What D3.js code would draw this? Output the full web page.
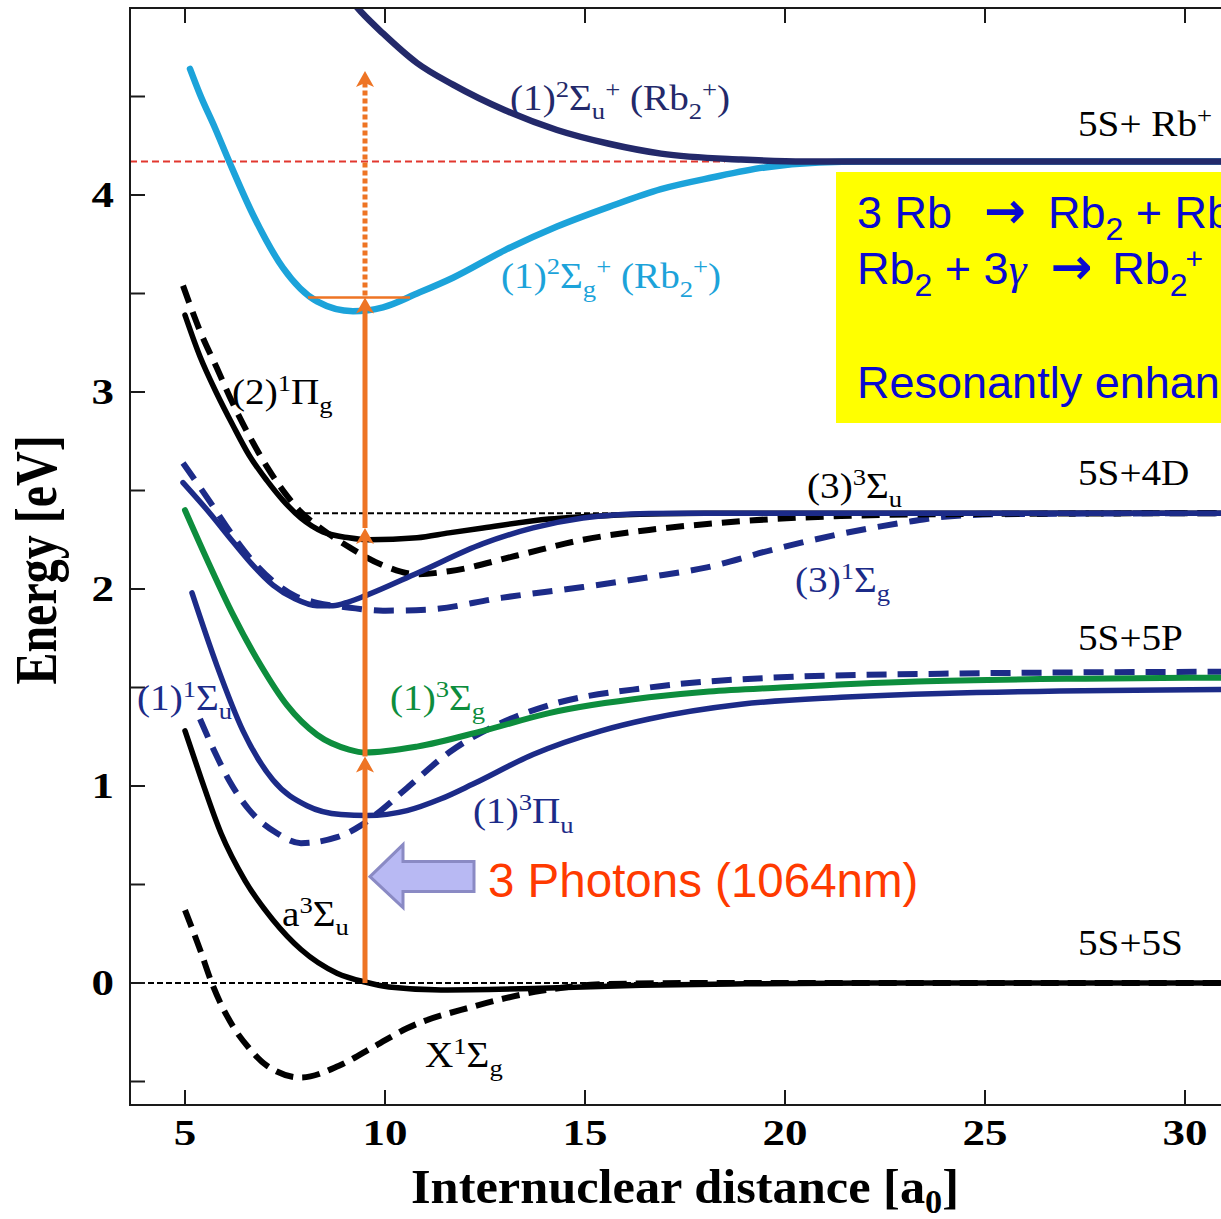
<!DOCTYPE html>
<html><head><meta charset="utf-8">
<script src="https://cdn.jsdelivr.net/npm/d3@7"></script>
<style>body{margin:0;background:#fff}svg{display:block}</style>
</head><body>
<svg id="c" width="1221" height="1219"></svg>
<script>
// ---------- data ----------
const xTicks = [5, 10, 15, 20, 25, 30];
const yTicks = [0, 1, 2, 3, 4];
const yMinorTicks = [-0.5, 0.5, 1.5, 2.5, 3.5, 4.5];

// potential curves: [R (a0), E (eV)]
const ionU = [[8.9,5.05],[9.4,4.93],[9.95,4.82],[10.8,4.67],[11.7,4.56],[13.0,4.43],[14.3,4.33],[15.6,4.26],[16.9,4.21],[18.9,4.18],[20.5,4.17],[31,4.17]];
const ionG = [[5.125,4.64],[5.375,4.51],[5.75,4.34],[6.125,4.16],[6.7,3.90],[7.45,3.63],[8.3,3.46],[9.2,3.41],[9.95,3.43],[10.8,3.50],[11.7,3.58],[13.0,3.72],[14.3,3.84],[15.6,3.94],[16.9,4.03],[18.2,4.09],[19.5,4.14],[20.85,4.165],[22,4.17],[31,4.17]];
const piG2 = [[5.0,3.39],[5.375,3.18],[5.8,2.99],[6.2,2.83],[6.6,2.68],[7.05,2.55],[7.45,2.45],[7.9,2.36],[8.45,2.29],[9.1,2.26],[9.6,2.25],[10.8,2.26],[11.6,2.285],[12.45,2.31],[14.1,2.355],[15.8,2.375],[18,2.385],[31,2.385]];
const piG2dash = [[4.95,3.54],[5.375,3.31],[5.8,3.12],[6.2,2.94],[6.6,2.78],[7.05,2.62],[7.45,2.50],[7.9,2.39],[8.45,2.30],[9.125,2.21],[9.95,2.12],[10.8,2.075],[11.6,2.09],[13.3,2.17],[14.95,2.25],[16.6,2.30],[18.05,2.33],[19.7,2.355],[21.4,2.37],[24,2.38],[31,2.385]];
const sigU3 = [[4.95,2.54],[5.6,2.39],[6.2,2.24],[6.7,2.12],[7.2,2.02],[7.75,1.95],[8.3,1.915],[8.7,1.915],[9.1,1.935],[9.5,1.965],[10.8,2.08],[12.45,2.23],[13.7,2.31],[14.95,2.36],[16.6,2.383],[18,2.385],[31,2.385]];
const sigG3 = [[4.95,2.64],[5.6,2.45],[6.2,2.27],[6.7,2.14],[7.2,2.04],[7.75,1.965],[8.3,1.93],[9.125,1.905],[9.95,1.89],[11.05,1.895],[12.9,1.955],[14.95,2.01],[16.6,2.06],[18.05,2.11],[19.7,2.20],[21.4,2.28],[23.05,2.34],[23.9,2.365],[25.5,2.38],[31,2.385]];
const sigG1 = [[5.0,2.40],[5.55,2.15],[6.2,1.87],[6.9,1.61],[7.55,1.41],[8.3,1.26],[9.1,1.185],[9.5,1.17],[10.8,1.20],[12.45,1.28],[14.1,1.37],[16.6,1.45],[18.1,1.48],[19.9,1.50],[23.3,1.53],[27.5,1.545],[31,1.55]];
const piU1 = [[5.175,1.98],[5.8,1.61],[6.45,1.28],[7.2,1.03],[8.05,0.90],[8.9,0.855],[9.55,0.85],[10.55,0.875],[11.4,0.935],[12.2,1.01],[13.7,1.16],[15.4,1.28],[16.6,1.34],[18.9,1.415],[21.4,1.45],[23.9,1.47],[31,1.49]];
const sigU1 = [[5.375,1.34],[5.75,1.17],[6.125,1.02],[6.6,0.88],[7.3,0.76],[7.9,0.71],[8.8,0.74],[9.4,0.80],[9.8,0.86],[10.55,0.99],[11.6,1.17],[12.9,1.32],[14.1,1.41],[16.6,1.50],[19.7,1.55],[23.9,1.57],[31,1.58]];
const aSigU = [[5.0,1.28],[5.4,1.04],[5.9,0.76],[6.5,0.52],[7.2,0.32],[7.9,0.17],[8.8,0.05],[9.5,0.005],[10.1,-0.02],[11.4,-0.035],[13.9,-0.027],[16.4,-0.012],[19,-0.004],[22,0],[31,0]];
const xSigG = [[5.0,0.37],[5.375,0.17],[5.67,0.0],[6.2,-0.22],[6.6,-0.33],[7.05,-0.42],[7.9,-0.48],[8.85,-0.42],[9.75,-0.32],[10.55,-0.23],[12.2,-0.12],[13.9,-0.04],[15.6,-0.005],[18,0],[31,0]];

// energy levels / photon steps
const ionLimit = 4.17;
const level4D = 2.385;
const photonR = 9.5;
const photonSteps = [0, 1.15, 2.31, 3.48];
const photonDotTop = 4.63;

// labels (markup: ^{} superscript, _{} subscript)
const stateLabels = [
  {t:"(1)^{2}Σ_{u}^{+} (Rb_{2}^{+})", R:13.125, E:4.43, c:"navy"},
  {t:"5S+ Rb^{+}", R:27.325, E:4.30, c:"black"},
  {t:"(1)^{2}Σ_{g}^{+} (Rb_{2}^{+})", R:12.9, E:3.53, c:"light"},
  {t:"(2)^{1}Π_{g}", R:6.175, E:2.94, c:"black"},
  {t:"(3)^{3}Σ_{u}", R:20.55, E:2.46, c:"black"},
  {t:"5S+4D", R:27.325, E:2.53, c:"black"},
  {t:"(3)^{1}Σ_{g}", R:20.25, E:1.985, c:"blue"},
  {t:"5S+5P", R:27.325, E:1.69, c:"black"},
  {t:"(1)^{3}Σ_{g}", R:10.125, E:1.386, c:"green"},
  {t:"(1)^{1}Σ_{u}", R:3.8, E:1.386, c:"blue"},
  {t:"(1)^{3}Π_{u}", R:12.2, E:0.81, c:"blue"},
  {t:"a^{3}Σ_{u}", R:7.425, E:0.29, c:"black"},
  {t:"5S+5S", R:27.325, E:0.142, c:"black"},
  {t:"X^{1}Σ_{g}", R:11.0, E:-0.426, c:"black"}
];

// ---------- chart ----------
const W = 1221, H = 1219;
const svg = d3.select("#c");
const x = d3.scaleLinear().domain([5, 30]).range([185, 1185]);
const y = d3.scaleLinear().domain([0, 4]).range([983, 195]);
const plotL = 130, plotT = 8, plotB = 1105, plotR = 1240;

const colors = {navy:"#23296a", light:"#1ca3da", blue:"#1c2b88", green:"#0d8d3d", black:"#000", orange:"#ee7424", red:"#e2372e"};

svg.append("defs").append("clipPath").attr("id","clip")
  .append("rect").attr("x",plotL).attr("y",plotT).attr("width",plotR-plotL).attr("height",plotB-plotT);

const g = svg.append("g").attr("clip-path","url(#clip)");
const line = d3.line().x(d=>x(d[0])).y(d=>y(d[1])).curve(d3.curveMonotoneX);

// reference lines
g.append("line").attr("x1",plotL).attr("x2",x(31)).attr("y1",y(0)).attr("y2",y(0))
  .attr("stroke","#000").attr("stroke-width",2).attr("stroke-dasharray","6,3");
g.append("line").attr("x1",x(8.0)).attr("x2",x(19)).attr("y1",y(level4D)).attr("y2",y(level4D))
  .attr("stroke","#000").attr("stroke-width",2).attr("stroke-dasharray","6,3");
g.append("line").attr("x1",plotL).attr("x2",x(18.5)).attr("y1",y(ionLimit)).attr("y2",y(ionLimit))
  .attr("stroke",colors.red).attr("stroke-width",1.8).attr("stroke-dasharray","7,4");

const curves = [
  {d:xSigG, c:colors.black, w:6, dash:"18,9"},
  {d:aSigU, c:colors.black, w:5.5, dash:null},
  {d:sigU1, c:colors.blue, w:6, dash:"20,11"},
  {d:piU1, c:colors.blue, w:5.5, dash:null},
  {d:sigG1, c:colors.green, w:6, dash:null},
  {d:sigG3, c:colors.blue, w:6, dash:"20,12"},
  {d:piG2dash, c:colors.black, w:6, dash:"18,10"},
  {d:piG2, c:colors.black, w:5.5, dash:null},
  {d:sigU3, c:colors.blue, w:5.5, dash:null},
  {d:ionG, c:colors.light, w:6.5, dash:null},
  {d:ionU, c:colors.navy, w:6.5, dash:null}
];
g.selectAll("path.curve").data(curves).join("path").attr("class","curve")
  .attr("d",d=>line(d.d)).attr("fill","none").attr("stroke",d=>d.c)
  .attr("stroke-width",d=>d.w).attr("stroke-dasharray",d=>d.dash)
  .attr("stroke-linecap",d=>d.dash?"butt":"round").attr("stroke-linejoin","round");

// orange photon arrows
const px = x(photonR);
g.append("line").attr("x1",x(8.075)).attr("x2",x(10.625))
  .attr("y1",y(photonSteps[3])).attr("y2",y(photonSteps[3]))
  .attr("stroke",colors.orange).attr("stroke-width",2.5);
for (let i=0;i<photonSteps.length-1;i++){
  g.append("line").attr("x1",px).attr("x2",px)
    .attr("y1",y(photonSteps[i])).attr("y2",y(photonSteps[i+1])+10)
    .attr("stroke",colors.orange).attr("stroke-width",5);
}
g.append("line").attr("x1",px).attr("x2",px)
  .attr("y1",y(photonSteps[3])-2).attr("y2",y(photonDotTop)+12)
  .attr("stroke",colors.orange).attr("stroke-width",5).attr("stroke-dasharray","5,3");
const heads = photonSteps.slice(1).concat([photonDotTop]);
g.selectAll("path.head").data(heads).join("path").attr("class","head")
  .attr("d",e=>{const ty=y(e);return `M${px},${ty} L${px+9},${ty+16} L${px},${ty+12} L${px-9},${ty+16} Z`;})
  .attr("fill",colors.orange);

// axes frame
const frame = svg.append("g").attr("stroke","#1a1a1a").attr("stroke-width",2).attr("fill","none");
frame.append("path").attr("d",`M${W+5},${plotT} H${plotL} V${plotB} H${W+5}`);
frame.selectAll("line.yt").data(yTicks.concat(yMinorTicks)).join("line").attr("class","yt")
  .attr("x1",plotL).attr("x2",plotL+15).attr("y1",d=>y(d)).attr("y2",d=>y(d));
frame.selectAll("line.xb").data(xTicks).join("line").attr("class","xb")
  .attr("x1",d=>x(d)).attr("x2",d=>x(d)).attr("y1",plotB).attr("y2",plotB-15);
frame.selectAll("line.xt").data(xTicks).join("line").attr("class","xt")
  .attr("x1",d=>x(d)).attr("x2",d=>x(d)).attr("y1",plotT).attr("y2",plotT+15);

const serif = "'Liberation Serif','Times New Roman',serif";
const sans = "'Liberation Sans',Arial,sans-serif";
const tickSX = 1.25;
svg.selectAll("text.yl").data(yTicks).join("text").attr("class","yl")
  .attr("transform",d=>`translate(114,${y(d)+12}) scale(${tickSX},1)`)
  .attr("text-anchor","end").attr("font-family",serif).attr("font-weight","bold")
  .attr("font-size",36).text(d=>d);
svg.selectAll("text.xl").data(xTicks).join("text").attr("class","xl")
  .attr("transform",d=>`translate(${x(d)},${plotB+40}) scale(${tickSX},1)`)
  .attr("text-anchor","middle").attr("font-family",serif).attr("font-weight","bold")
  .attr("font-size",36).text(d=>d);

// rich text helper
function rich(sel, markup, fs, subShift){
  const sb = subShift===undefined ? 0.26 : subShift;
  const toks=[]; const re=/(\^\{[^}]*\}|_\{[^}]*\}|[^\^_]+)/g; let m;
  while((m=re.exec(markup))){const s=m[0];
    if(s[0]==="^") toks.push({k:"sup",s:s.slice(2,-1)});
    else if(s[0]==="_") toks.push({k:"sub",s:s.slice(2,-1)});
    else toks.push({k:"n",s});}
  let cur=0;
  toks.forEach(t=>{
    const target = t.k==="sup" ? -0.38*fs : t.k==="sub" ? sb*fs : 0;
    sel.append("tspan").attr("dy",target-cur)
      .attr("font-size",t.k==="n"?fs:fs*0.68).text(t.s);
    cur=target;
  });
}

// axis titles
const yt = svg.append("text").attr("transform","translate(56,560) rotate(-90) scale(1,1.25)")
  .attr("text-anchor","middle").attr("font-family",serif).attr("font-weight","bold");
rich(yt,"Energy [eV]",48);
const xt = svg.append("text").attr("transform","translate(685,1203) scale(1.05,1)")
  .attr("text-anchor","middle").attr("font-family",serif).attr("font-weight","bold");
rich(xt,"Internuclear distance [a_{0}]",48,0.2);

// state labels
const lblSX = 1.12;
stateLabels.forEach(L=>{
  const t = svg.append("text").attr("transform",`translate(${x(L.R)},${y(L.E)}) scale(${lblSX},1)`)
    .attr("font-family",serif).attr("fill",colors[L.c]);
  rich(t,L.t,35);
});

// big blue arrow
const ax = x(9.625), ay = y(0.54);
svg.append("path")
  .attr("d",`M${ax},${ay} L${ax+33},${ay-32} L${ax+33},${ay-15} L${ax+104},${ay-15} L${ax+104},${ay+15} L${ax+33},${ay+15} L${ax+33},${ay+31} Z`)
  .attr("fill","#b8b9f3").attr("stroke","#8a8ac4").attr("stroke-width",3).attr("stroke-linejoin","miter");

svg.append("text").attr("x",488).attr("y",897).attr("font-family",sans)
  .attr("font-size",47.5).attr("fill","#ff3a00").text("3 Photons (1064nm)");

// yellow box
svg.append("rect").attr("x",836).attr("y",172).attr("width",400).attr("height",251).attr("fill","#ffff00");
const boxFs = 45, boxC = "#0a0ad0";
const arrowFont = "'DejaVu Sans',sans-serif";
const l1 = svg.append("text").attr("x",857).attr("y",228).attr("font-family",sans).attr("font-size",boxFs).attr("fill",boxC);
l1.append("tspan").text("3 Rb");
l1.append("tspan").attr("dx",32).attr("font-family",arrowFont).attr("font-weight","bold").attr("font-size",50).text("→");
l1.append("tspan").attr("dx",22).text("Rb");
l1.append("tspan").attr("dy",12).attr("font-size",32).text("2");
l1.append("tspan").attr("dy",-12).text(" + Rb");
const l2 = svg.append("text").attr("x",857).attr("y",284).attr("font-family",sans).attr("font-size",boxFs).attr("fill",boxC);
l2.append("tspan").text("Rb");
l2.append("tspan").attr("dy",12).attr("font-size",32).text("2");
l2.append("tspan").attr("dy",-12).text(" + 3");
l2.append("tspan").attr("font-family",serif).attr("font-style","italic").text("γ");
l2.append("tspan").attr("dx",24).attr("font-family",arrowFont).attr("font-weight","bold").attr("font-size",50).text("→");
l2.append("tspan").attr("dx",20).text("Rb");
l2.append("tspan").attr("dy",12).attr("font-size",32).text("2");
l2.append("tspan").attr("dy",-27).attr("dx",-2).attr("font-size",30).text("+");
svg.append("text").attr("x",857).attr("y",398).attr("font-family",sans).attr("font-size",boxFs).attr("fill",boxC)
  .text("Resonantly enhanced");
</script>
</body></html>
